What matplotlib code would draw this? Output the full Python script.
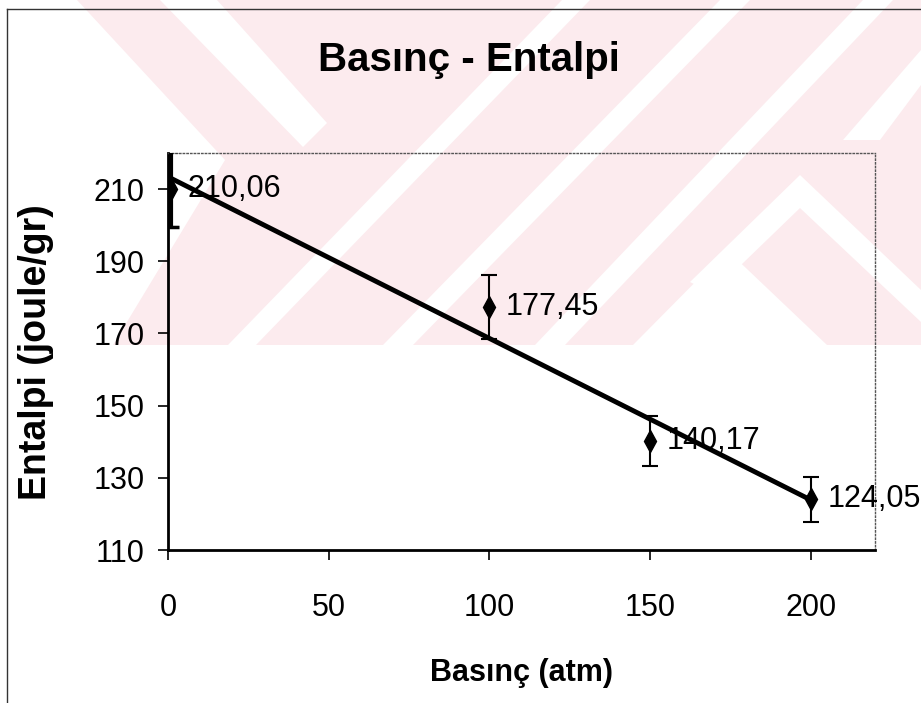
import numpy as np
import matplotlib
matplotlib.use('Agg')
import matplotlib.pyplot as plt
from matplotlib.patches import Polygon
from matplotlib.lines import Line2D

plt.rcParams['font.family'] = ['Liberation Sans', 'DejaVu Sans']

# data
pressure = [1, 100, 150, 200]                 # atm
enthalpy = [210.06, 177.45, 140.17, 124.05]   # joule/gr
enthalpy_err = [10.5, 8.87, 7.01, 6.20]
x_ticks = [0, 50, 100, 150, 200]
y_ticks = [110, 130, 150, 170, 190, 210]

W, H = 921, 703
fig = plt.figure(figsize=(W / 100, H / 100), dpi=100)

def px(x, y):
    return (x / W, 1 - y / H)

# faint scanned watermark behind the chart
pink = '#fcebee'
fig.add_artist(Polygon([px(0, 0), px(W, 0), px(W, 345), px(0, 345)], closed=True,
                       transform=fig.transFigure, fc=pink, ec='none', zorder=-3))
white_shapes = [
    [(0, 0), (77, 0), (225, 160), (113, 345), (0, 345)],
    [(160, 0), (217, 0), (327, 123), (303, 147)],
    [(228, 345), (256, 345), (590, 0), (562, 0)],
    [(383, 345), (413, 345), (750, 0), (720, 0)],
    [(535, 345), (565, 345), (893, 0), (863, 0)],
    [(633, 345), (727, 250), (827, 345)],
    [(690, 282), (800, 175), (921, 290), (921, 322), (800, 208), (712, 293)],
    [(843, 140), (880, 140), (921, 85), (921, 50)],
]
for shp in white_shapes:
    fig.add_artist(Polygon([px(*p) for p in shp], closed=True,
                           transform=fig.transFigure, fc='white', ec='none', zorder=-2))

# chart area border (only left and top visible in the scan)
fig.add_artist(Line2D([7 / W, 7 / W], [0, 1 - 9 / H], transform=fig.transFigure,
                      color='#333333', lw=1))
fig.add_artist(Line2D([7 / W, 1], [1 - 9 / H, 1 - 9 / H], transform=fig.transFigure,
                      color='#333333', lw=1))

ax = fig.add_axes([168 / W, 1 - 550 / H, (875 - 168) / W, (550 - 153) / H])
ax.set_facecolor('none')

# linear trend line
coef = np.polyfit(pressure, enthalpy, 1)
xs = np.array([pressure[0], pressure[-1]])
ax.plot(xs, np.polyval(coef, xs), color='black', lw=3.5, zorder=3, solid_capstyle='butt')

ax.errorbar(pressure, enthalpy, yerr=enthalpy_err, fmt='d', color='black',
            ms=11, elinewidth=1.5, capsize=5.5, capthick=1.5, zorder=4)
ax.errorbar(pressure[:1], enthalpy[:1], yerr=enthalpy_err[:1], fmt='none', ecolor='black',
            elinewidth=3, capsize=5.5, capthick=2.5, zorder=4)

for xv, yv in zip(pressure, enthalpy):
    ax.annotate(f'{yv:.2f}'.replace('.', ','), (xv, yv), xytext=(12, 0),
                textcoords='offset points', va='center', ha='left',
                fontsize=22, color='black', zorder=5, annotation_clip=False)

ax.set_xlim(0, 220)
ax.set_ylim(110, 220)
ax.set_xticks(x_ticks)
ax.set_yticks(y_ticks)
ax.tick_params(axis='both', direction='out', length=7, width=1.2, labelsize=22)
ax.tick_params(axis='x', pad=24)
ax.tick_params(axis='y', pad=10)

for s in ['left', 'bottom']:
    ax.spines[s].set_linewidth(2)
    ax.spines[s].set_color('black')
for s in ['top', 'right']:
    ax.spines[s].set_linestyle(':')
    ax.spines[s].set_linewidth(1)
    ax.spines[s].set_color('#555555')

ax.set_xlabel('Basınç (atm)', fontsize=22, fontweight='bold', va='center')
ax.xaxis.set_label_coords(0.5, (550 - 673) / 397)
ax.set_ylabel('Entalpi (joule/gr)', fontsize=27, fontweight='bold', va='center')
ax.yaxis.set_label_coords((36 - 168) / 707, (550 - 352) / 397)

fig.text(469 / W, 1 - 60 / H, 'Basınç - Entalpi', fontsize=29, fontweight='bold',
         ha='center', va='center')

fig.savefig('out.png', dpi=100)
